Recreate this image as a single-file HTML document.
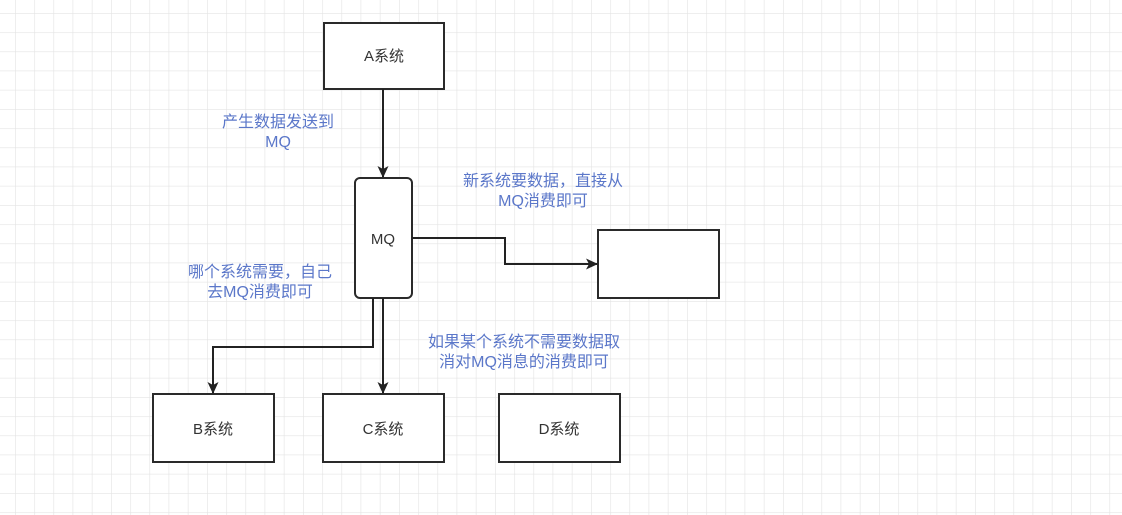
<!DOCTYPE html>
<html><head><meta charset="utf-8"><style>
html,body{margin:0;padding:0;background:#fff;}
svg{display:block;}
text{font-family:"Liberation Sans","Noto Sans CJK SC",sans-serif;}
</style></head><body>
<svg width="1122" height="515" viewBox="0 0 1122 515" xmlns="http://www.w3.org/2000/svg">
<defs>
<pattern id="g" x="15" y="13" width="19.2" height="19.2" patternUnits="userSpaceOnUse">
<path d="M0 0H19.2M0 0V19.2" stroke="#e4e4e4" stroke-width="1.3" fill="none"/>
</pattern>
<marker id="a" markerWidth="12" markerHeight="12" refX="11" refY="6" orient="auto" markerUnits="userSpaceOnUse">
<path d="M0 0.5L12 6L0 11.5L3 6Z" fill="#222"/>
</marker>
</defs>
<rect width="1122" height="515" fill="#fff"/>
<rect width="1122" height="515" fill="url(#g)"/>
<g fill="#fff" stroke="#2a2a2a" stroke-width="2">
<rect x="324" y="23" width="120" height="66"/>
<rect x="355" y="178" width="57" height="120" rx="5"/>
<rect x="598" y="230" width="121" height="68"/>
<rect x="153" y="394" width="121" height="68"/>
<rect x="323" y="394" width="121" height="68"/>
<rect x="499" y="394" width="121" height="68"/>
</g>
<g fill="none" stroke="#222" stroke-width="2">
<path d="M383 89V177" marker-end="url(#a)"/>
<path d="M412 238H505V264H597" marker-end="url(#a)"/>
<path d="M373 298V347H213V393" marker-end="url(#a)"/>
<path d="M383 298V393" marker-end="url(#a)"/>
</g>
<g font-size="15" fill="#333" text-anchor="middle">
<text x="384" y="61">A系统</text>
<text x="383" y="244">MQ</text>
<text x="213" y="434">B系统</text>
<text x="383" y="434">C系统</text>
<text x="559" y="434">D系统</text>
</g>
<g font-size="16" fill="#5b77c9" text-anchor="middle">
<text x="278" y="127">产生数据发送到</text>
<text x="278" y="147">MQ</text>
<text x="543" y="186">新系统要数据，直接从</text>
<text x="543" y="206">MQ消费即可</text>
<text x="260" y="277">哪个系统需要，自己</text>
<text x="260" y="297">去MQ消费即可</text>
<text x="524" y="347">如果某个系统不需要数据取</text>
<text x="524" y="367">消对MQ消息的消费即可</text>
</g>
</svg>
</body></html>
